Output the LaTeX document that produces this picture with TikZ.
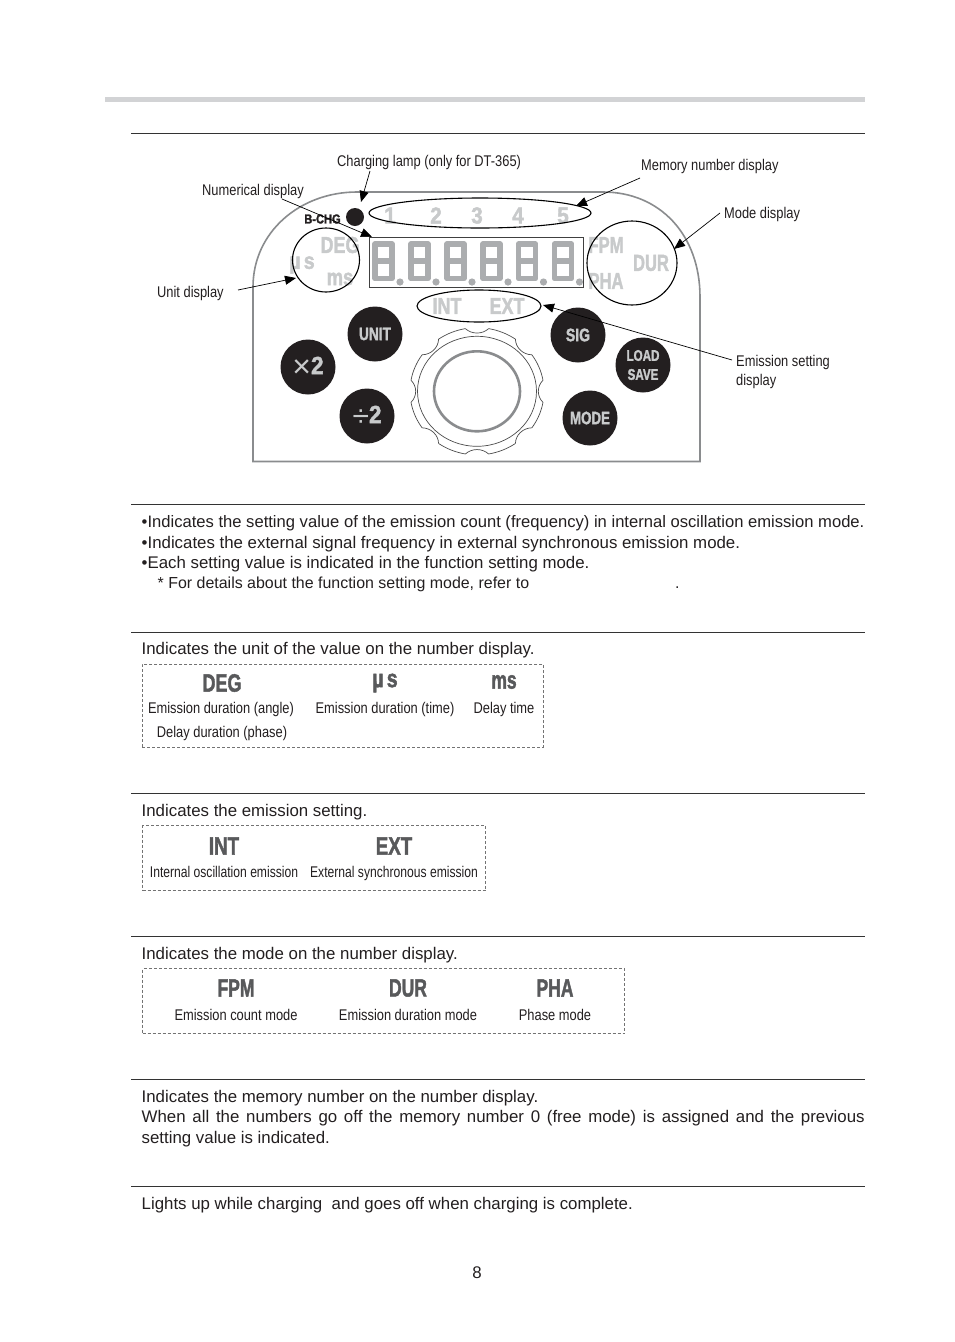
\documentclass[tikz,border=0pt]{standalone}
\usepackage{fontspec}
\setmainfont{Liberation Sans}
\newfontfamily\iconfont[UprightFont=* Bold,FakeBold=2]{Liberation Sans}
\usetikzlibrary{arrows.meta,shapes.geometric}
\definecolor{rulec}{HTML}{333333}
\definecolor{barc}{HTML}{D2D3D5}
\definecolor{panelc}{HTML}{8A8C8E}
\definecolor{lite}{HTML}{C8CACB}
\definecolor{segc}{HTML}{ABADAF}
\definecolor{iconc}{HTML}{58595B}
\definecolor{btn}{HTML}{231F20}
\definecolor{inkc}{HTML}{231F20}
\newcommand{\nar}[1]{\scalebox{0.83}[1]{#1}}
\newcommand{\narr}[1]{\scalebox{0.782}[1]{#1}}
\newcommand{\icn}[2]{\scalebox{#1}[1]{\pgfsetstrokecolor{.}\iconfont #2}}
\tikzset{
  x=1pt,y=-1pt,
  bodytxt/.style={anchor=base west,inner sep=0,font=\fontsize{16.84}{18}\selectfont,text=inkc},
  smalltxt/.style={anchor=base west,inner sep=0,font=\fontsize{15.95}{18}\selectfont,text=inkc},
  lbltxt/.style={anchor=base west,inner sep=0,font=\fontsize{15.5}{18}\selectfont,text=inkc},
  captxt/.style={anchor=base,inner sep=0,font=\fontsize{15.5}{18}\selectfont,text=inkc},
  lgicon/.style={inner sep=0,font=\fontsize{25}{26}\selectfont,text=iconc},
  pnicon/.style={inner sep=0,font=\fontsize{23}{24}\selectfont,text=lite},
  btnc/.style={circle,fill=btn,draw=none,minimum size=55pt,inner sep=0,text=lite,font=\fontsize{18}{19}\selectfont},
  rulel/.style={draw=rulec,line width=0.8pt},
  ringc/.style={draw=black,line width=1.1pt},
  arrc/.style={draw=black,line width=0.7pt,-{Triangle[length=11pt,width=9pt]}},
  dboxc/.style={draw=black!55,line width=0.6pt,dash pattern=on 3pt off 2pt},
  knobl/.style={draw=black!70,line width=0.7pt},
}
\begin{document}
\begin{tikzpicture}
\useasboundingbox (0,0) rectangle (954,1342);
\fill[white] (0,0) rectangle (954,1342);
% top bar and rules
\fill[barc] (105,97) rectangle (865,102);
\foreach \yy in {133.5,504.5,632.5,793.5,936.5,1079.5,1186.5}
  \draw[rulel] (131,\yy) -- (865,\yy);
% panel
\draw[panelc,line width=1.6pt] (253,461.5) -- (253,287) .. controls (253,232) and (300,192) .. (357,192)
  -- (603,192) .. controls (660,192) and (700,235) .. (700,297) -- (700,461.5) -- cycle;
% display
\foreach \dx in {372,408,444,480,515.5,551.5}{
  \draw[segc,line width=5.6pt,line join=round] (\dx+3,244) rectangle (\dx+20,278.5);
  \draw[segc,line width=5.6pt] (\dx+3,261) -- (\dx+20,261);
  \fill[segc] (\dx+28,282) circle (3.6);
}
\node[draw=black!75,line width=0.7pt,inner sep=0,minimum width=214pt,minimum height=50pt] (frame) at (476,262) {};
% memory digits
\foreach \dx/\dn in {390/1,436/2,477/3,518/4,563/5}
  \node[pnicon] (mem\dn) at (\dx,215.5) {\icn{0.9}{\dn}};
% unit, mode and emission icons
\node[pnicon] (pdeg) at (340,245) {\icn{0.78}{DEG}};
\node[pnicon] (pmu) at (302,265) {\icn{0.85}{µ\,s}};
\node[pnicon] (pms) at (340,279) {\icn{0.8}{ms}};
\node[pnicon] (pfpm) at (606,245) {\icn{0.72}{FPM}};
\node[pnicon] (ppha) at (606,281) {\icn{0.72}{PHA}};
\node[pnicon] (pdur) at (651,263) {\icn{0.72}{DUR}};
\node[pnicon] (pint) at (447,306) {\icn{0.78}{INT}};
\node[pnicon] (pext) at (507,306) {\icn{0.78}{EXT}};
% rings
\node[ringc,ellipse,inner sep=0,minimum width=222pt,minimum height=30pt] (memring) at (480,213) {};
\node[ringc,ellipse,inner sep=0,minimum width=124pt,minimum height=32pt] (emiring) at (479,306) {};
\node[ringc,ellipse,inner sep=0,minimum width=67pt,minimum height=64pt] (unitring) at (326,260) {};
\node[ringc,ellipse,inner sep=0,minimum width=90pt,minimum height=84pt] (modering) at (632,263) {};
\node[circle,fill=btn,minimum size=18pt,inner sep=0] (lamp) at (355,217) {};
\node[inner sep=0,font=\fontsize{13}{13}\selectfont,text=inkc] (bchg) at (322.5,219) {\icn{0.85}{B-CHG}};
% buttons
\node[btnc] (bunit) at (375,334) {\icn{0.76}{UNIT}};
\node[btnc,font=\fontsize{25}{26}\selectfont] (bx) at (308,367) {\raisebox{-3pt}{\fontsize{32}{32}\selectfont ×}\icn{0.9}{2}};
\node[btnc,font=\fontsize{25}{26}\selectfont] (bd) at (367,416) {\raisebox{-3pt}{\fontsize{30}{30}\selectfont ÷}\icn{0.9}{2}};
\node[btnc] (bsig) at (578,335) {\icn{0.78}{SIG}};
\node[btnc,align=center,font=\fontsize{15.5}{19}\selectfont] (bload) at (643,365) {\icn{0.75}{LOAD}\\[0pt]\icn{0.75}{SAVE}};
\node[btnc] (bmode) at (590,418) {\icn{0.74}{MODE}};
% knob
\begin{scope}[shift={(477,391.3)},yscale=0.95]
  \foreach \a in {0,45,...,315}{
    \draw[knobl] (\a+10:67) arc[start angle=\a+10,end angle=\a+35,radius=67];
    \draw[knobl] (\a-10:67) .. controls (\a-5:60) and (\a+5:60) .. (\a+10:67);
  }
\end{scope}
\node[knobl,ellipse,minimum width=119pt,minimum height=110pt,inner sep=0] (knobring) at (477,391.3) {};
\node[draw=panelc,ellipse,line width=2.6pt,minimum width=86pt,minimum height=80pt,inner sep=0] (knobcap) at (477,391.3) {};
% labels
\node[lbltxt] (lcharge) at (337,166) {\nar{Charging lamp (only for DT-365)}};
\node[lbltxt] (lmem) at (641,170) {\nar{Memory number display}};
\node[lbltxt] (lnum) at (202,195) {\nar{Numerical display}};
\node[lbltxt] (lmode) at (724,218) {\nar{Mode display}};
\node[lbltxt] (lunit) at (157,297) {\nar{Unit display}};
\node[lbltxt] (lemi) at (736,366) {\nar{Emission setting}};
\node[lbltxt] (lemi2) at (736,385) {\nar{display}};
% connectors
\coordinate (s1) at (370,171); \coordinate (t1) at (361,202);
\coordinate (s2) at (640,178); \coordinate (t2) at (576,206);
\coordinate (s3) at (282,199); \coordinate (t3) at (372,237);
\coordinate (s4) at (720,213); \coordinate (t4) at (674,249);
\coordinate (s5) at (238,290); \coordinate (t5) at (296,278);
\coordinate (s6) at (732,360); \coordinate (t6) at (543,305);
\draw[arrc] (s1) -- (t1);
\draw[arrc] (s2) -- (t2);
\draw[arrc] (s3) -- (t3);
\draw[arrc] (s4) -- (t4);
\draw[arrc] (s5) -- (t5);
\draw[arrc] (s6) -- (t6);
% section 1
\node[bodytxt,font=\fontsize{16.6}{18}\selectfont] (a1) at (141.5,527) {•Indicates the setting value of the emission count (frequency) in internal oscillation emission mode.};
\node[bodytxt] (a2) at (141.5,548) {•Indicates the external signal frequency in external synchronous emission mode.};
\node[bodytxt] (a3) at (141.5,568) {•Each setting value is indicated in the function setting mode.};
\node[smalltxt] (a4) at (157.5,588) {* For details about the function setting mode, refer to};
\node[smalltxt] (a5) at (675,588) {.};
% section 2
\node[bodytxt] (b1) at (141.5,654) {Indicates the unit of the value on the number display.};
\node[dboxc,inner sep=0,minimum width=401pt,minimum height=83pt] (b0) at (342.8,705.6) {};
\node[lgicon] (bdeg) at (222,683) {\icn{0.72}{DEG}};
\node[lgicon] (bmu) at (385,683) {\icn{0.78}{µ\,s}};
\node[lgicon] (bms) at (504,682) {\icn{0.7}{ms}};
\node[captxt] (bc1) at (221,713) {\nar{Emission duration (angle)}};
\node[captxt] (bc2) at (222,737) {\nar{Delay duration (phase)}};
\node[captxt] (bc3) at (385,713) {\nar{Emission duration (time)}};
\node[captxt] (bc4) at (504,713) {\nar{Delay time}};
% section 3
\node[bodytxt] (c1) at (141.5,816) {Indicates the emission setting.};
\node[dboxc,inner sep=0,minimum width=343pt,minimum height=65pt] (c0) at (314,858) {};
\node[lgicon] (cint) at (224,846) {\icn{0.75}{INT}};
\node[lgicon] (cext) at (394,846) {\icn{0.75}{EXT}};
\node[captxt] (cc1) at (224,877) {\narr{Internal oscillation emission}};
\node[captxt] (cc2) at (394,877) {\narr{External synchronous emission}};
% section 4
\node[bodytxt] (d1) at (141.5,959) {Indicates the mode on the number display.};
\node[dboxc,inner sep=0,minimum width=482pt,minimum height=65pt] (d0) at (383.5,1001) {};
\node[lgicon] (dfpm) at (236,988) {\icn{0.7}{FPM}};
\node[lgicon] (ddur) at (408,988) {\icn{0.7}{DUR}};
\node[lgicon] (dpha) at (555,988) {\icn{0.7}{PHA}};
\node[captxt] (dc1) at (236,1020) {\nar{Emission count mode}};
\node[captxt] (dc2) at (408,1020) {\nar{Emission duration mode}};
\node[captxt] (dc3) at (555,1020) {\nar{Phase mode}};
% section 5
\node[bodytxt] (e1) at (141.5,1102) {Indicates the memory number on the number display.};
\node[bodytxt] (e2) at (141.5,1122) {\makebox[723pt][s]{When all the numbers go off the memory number 0 (free mode) is assigned and the previous}};
\node[bodytxt] (e3) at (141.5,1143) {setting value is indicated.};
% section 6
\node[bodytxt] (f1) at (141.5,1209) {Lights up while charging\ \ and goes off when charging is complete.};
% page number
\node[bodytxt,anchor=base] (pg) at (477,1278) {8};
\end{tikzpicture}
\end{document}
